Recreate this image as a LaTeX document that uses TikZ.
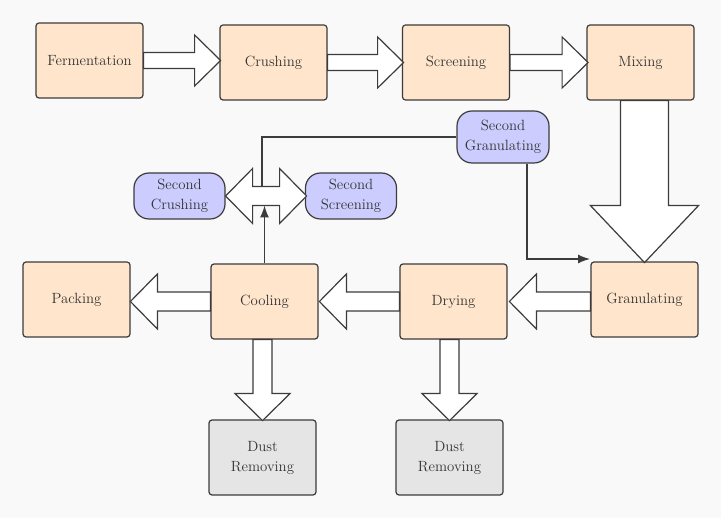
\documentclass[tikz,border=0pt]{standalone}
\usetikzlibrary{arrows.meta}

\definecolor{stepfill}{RGB}{255,229,204}
\definecolor{againfill}{RGB}{204,204,255}
\definecolor{dustfill}{RGB}{229,229,229}
\definecolor{edgegray}{RGB}{60,60,60}
\definecolor{inkgray}{RGB}{51,51,51}
\definecolor{paper}{RGB}{249,249,249}

\def\boxWidth{107}
\def\boxHeight{75}
\def\topShaft{8}
\def\topHead{25.5}
\def\topTip{26}
\def\midShaft{9.5}
\def\midHead{27.5}
\def\midTip{27}
\def\bigShaft{24}
\def\bigHead{54}
\def\bigTip{57}

\tikzset{
    stepbox/.style = {
        draw = edgegray, line width = 1.2pt, fill = stepfill,
        rounded corners = 3pt, align = center, inner sep = 2pt,
        minimum width = \boxWidth pt, minimum height = \boxHeight pt,
        text = inkgray, font = \fontsize{14.8}{20}\selectfont
    },
    dustbox/.style = {stepbox, fill = dustfill},
    againbox/.style = {
        stepbox, fill = againfill, rounded corners = 15pt,
        minimum width = 91pt, minimum height = 46pt
    },
    blockarrow/.style = {draw = edgegray, line width = 1.2pt, fill = white},
    feedline/.style = {draw = edgegray, line width = 1.3pt},
    feedtip/.style = {-{Latex[length = 12pt, width = 9pt]}}
}

\begin{document}
\begin{tikzpicture}[x = 1pt, y = -1pt]
    \fill [paper] (0,0) rectangle (721,518);
    \useasboundingbox (0,0) rectangle (721,518);

    %% main line
    \node [stepbox] (fermentation) at (89.5,60.5) {Fermentation};
    \node [stepbox] (crushing) at (273.5,62.5) {Crushing};
    \node [stepbox] (screening) at (456,62.5) {Screening};
    \node [stepbox] (mixing) at (640.5,62.5) {Mixing};
    \node [stepbox] (granulating) at (644.5,299.5) {Granulating};
    \node [stepbox] (drying) at (453.5,301.5) {Drying};
    \node [stepbox] (cooling) at (264.5,301.5) {Cooling};
    \node [stepbox] (packing) at (76.5,299.5) {Packing};
    \node [dustbox] (dustone) at (262.5,457.5) {Dust\\Removing};
    \node [dustbox] (dusttwo) at (449.5,457.5) {Dust\\Removing};

    %% second pass
    \node [againbox] (secondcrushing) at (179.5,196) {Second\\Crushing};
    \node [againbox] (secondscreening) at (351,196) {Second\\Screening};
    \node [againbox, minimum width = 92pt, minimum height = 52pt]
        (secondgranulating) at (503,137) {Second\\Granulating};

    %% top row arrows
    \draw [blockarrow]
        (fermentation.east) ++(0,-\topShaft)
        -- ++(51,0) -- ++(0,{\topShaft-\topHead})
        -- ++(\topTip,\topHead) -- ++(-\topTip,\topHead)
        -- ++(0,{\topShaft-\topHead}) -- ++(-51,0) -- cycle
        ;
    \draw [blockarrow]
        (crushing.east) ++(0,-\topShaft)
        -- ++(50,0) -- ++(0,{\topShaft-\topHead})
        -- ++(\topTip,\topHead) -- ++(-\topTip,\topHead)
        -- ++(0,{\topShaft-\topHead}) -- ++(-50,0) -- cycle
        ;
    \draw [blockarrow]
        (screening.east) ++(0,-\topShaft)
        -- ++(52,0) -- ++(0,{\topShaft-\topHead})
        -- ++(\topTip,\topHead) -- ++(-\topTip,\topHead)
        -- ++(0,{\topShaft-\topHead}) -- ++(-52,0) -- cycle
        ;
    %% down to granulating
    \draw [blockarrow]
        (granulating.north |- mixing.south) ++(-\bigShaft,0)
        -- ++(0,105) -- ++({\bigShaft-\bigHead},0)
        -- ++(\bigHead,\bigTip) -- ++(\bigHead,-\bigTip)
        -- ++({\bigShaft-\bigHead},0) -- ++(0,-105) -- cycle
        ;
    %% back along the middle row
    \draw [blockarrow]
        (drying.east -| granulating.west) ++(0,-\midShaft)
        -- ++(-54,0) -- ++(0,{\midShaft-\midHead})
        -- ++(-\midTip,\midHead) -- ++(\midTip,\midHead)
        -- ++(0,{\midShaft-\midHead}) -- ++(54,0) -- cycle
        ;
    \draw [blockarrow]
        (drying.west) ++(0,-\midShaft)
        -- ++(-53,0) -- ++(0,{\midShaft-\midHead})
        -- ++(-\midTip,\midHead) -- ++(\midTip,\midHead)
        -- ++(0,{\midShaft-\midHead}) -- ++(53,0) -- cycle
        ;
    \draw [blockarrow]
        (cooling.west) ++(0,-\midShaft)
        -- ++(-53,0) -- ++(0,{\midShaft-\midHead})
        -- ++(-\midTip,\midHead) -- ++(\midTip,\midHead)
        -- ++(0,{\midShaft-\midHead}) -- ++(53,0) -- cycle
        ;
    %% dust outlets
    \draw [blockarrow]
        (dustone.north |- cooling.south) ++(-\midShaft,0)
        -- ++(0,54) -- ++({\midShaft-\midHead},0)
        -- ++(\midHead,\midTip) -- ++(\midHead,-\midTip)
        -- ++({\midShaft-\midHead},0) -- ++(0,-54) -- cycle
        ;
    \draw [blockarrow]
        (dusttwo.north |- drying.south) ++(-\midShaft,0)
        -- ++(0,54) -- ++({\midShaft-\midHead},0)
        -- ++(\midHead,\midTip) -- ++(\midHead,-\midTip)
        -- ++({\midShaft-\midHead},0) -- ++(0,-54) -- cycle
        ;
    %% two-way arrow
    \draw [blockarrow]
        (secondcrushing.east)
        -- ++(\midTip,-\midHead) -- ++(0,{\midHead-\midShaft})
        -- ++(27,0) -- ++(0,{\midShaft-\midHead})
        -- ++(\midTip,\midHead) -- ++(-\midTip,\midHead)
        -- ++(0,{\midShaft-\midHead}) -- ++(-27,0)
        -- ++(0,{\midHead-\midShaft}) -- cycle
        ;

    %% thin connectors
    \coordinate (hubtop) at (262,186.5);
    \coordinate (hubbottom) at (264.5,205.5);
    \coordinate (granentry) at (590,259);
    \draw [feedline, feedtip] (cooling.north) -- (hubbottom);
    \draw [feedline] (secondgranulating.west) -| (hubtop);
    \draw [feedline, feedtip]
        ([xshift = 24pt]secondgranulating.south) |- (granentry);
\end{tikzpicture}
\end{document}
